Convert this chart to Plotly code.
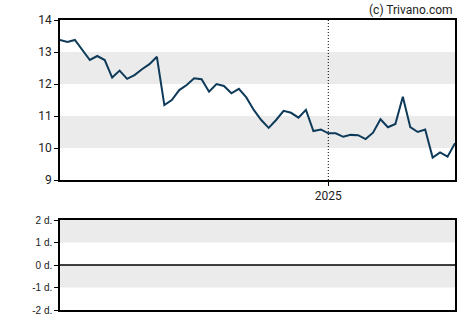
import plotly.graph_objects as go
import pandas as pd

dates = pd.date_range("2024-04-24", periods=54, freq="7D")
prices = [13.375, 13.31, 13.375, 13.06, 12.75, 12.875, 12.75, 12.20, 12.42, 12.16,
          12.28, 12.46, 12.62, 12.85, 11.34, 11.50, 11.81, 11.97, 12.18, 12.15,
          11.76, 12.00, 11.94, 11.71, 11.85, 11.58, 11.19, 10.875, 10.63, 10.875,
          11.16, 11.10, 10.95, 11.19, 10.53, 10.58, 10.46, 10.46, 10.35, 10.41,
          10.40, 10.28, 10.48, 10.90, 10.65, 10.75, 11.60, 10.65, 10.50, 10.58,
          9.70, 9.86, 9.73, 10.15]
top_ticks = [9, 10, 11, 12, 13, 14]
bottom_ticks = [-2, -1, 0, 1, 2]
bottom_labels = ["-2 d.", "-1 d.", "0 d.", "1 d.", "2 d."]
year_marker = "2025-01-01"

x0, x1 = dates[0], dates[-1]
band = "#ebebeb"

fig = go.Figure()
fig.add_trace(go.Scatter(x=dates, y=prices, mode="lines",
                         line=dict(color="#0e3a5a", width=2), xaxis="x", yaxis="y",
                         showlegend=False, hoverinfo="skip"))
fig.add_trace(go.Scatter(x=[x0, x1], y=[None, None], mode="lines", xaxis="x2", yaxis="y2",
                         showlegend=False, hoverinfo="skip"))

shapes = []
for lo, hi in [(10, 11), (12, 13)]:
    shapes.append(dict(type="rect", xref="x domain", yref="y", x0=0, x1=1, y0=lo, y1=hi,
                       fillcolor=band, line=dict(width=0), layer="below"))
for lo, hi in [(-1, 0), (1, 2)]:
    shapes.append(dict(type="rect", xref="x2 domain", yref="y2", x0=0, x1=1, y0=lo, y1=hi,
                       fillcolor=band, line=dict(width=0), layer="below"))
shapes.append(dict(type="line", xref="x", yref="y domain", x0=year_marker, x1=year_marker,
                   y0=0, y1=1, line=dict(color="black", width=1, dash="1px,2px")))
shapes.append(dict(type="line", xref="x2 domain", yref="y2", x0=0, x1=1, y0=0, y1=0,
                   line=dict(color="black", width=1.5)))

axis_common = dict(showline=True, linecolor="black", linewidth=1.5, mirror=True,
                   showgrid=False, zeroline=False, ticks="outside", ticklen=4,
                   tickcolor="black", automargin=False)

H = 325
t, b = 20, 15
ph = H - t - b
def py(p):
    return 1 - (p - t) / ph

fig.update_layout(
    width=470, height=H,
    margin=dict(l=60, r=15, t=t, b=b),
    paper_bgcolor="white", plot_bgcolor="white",
    font=dict(family="Roboto, Arial, sans-serif", color="#222222"),
    shapes=shapes,
    xaxis=dict(domain=[0, 1], anchor="y", range=[x0, x1], tickvals=[year_marker],
               ticktext=["2025"], tickfont=dict(size=12), **axis_common),
    yaxis=dict(domain=[py(180), 1], anchor="x", range=[9, 14], tickvals=top_ticks,
               tickfont=dict(size=12), **axis_common),
    xaxis2=dict(domain=[0, 1], anchor="y2", range=[x0, x1], showticklabels=False,
                **{**axis_common, "ticks": ""}),
    yaxis2=dict(domain=[0, py(220)], anchor="x2", range=[-2, 2], tickvals=bottom_ticks,
                ticktext=bottom_labels, tickfont=dict(size=10, family="Arial"), **axis_common),
    annotations=[dict(text="(c) Trivano.com", xref="paper", yref="paper", x=1, y=1,
                      xanchor="right", yanchor="bottom", yshift=1, showarrow=False,
                      font=dict(size=12, color="#222222"))],
)

fig.write_html("out.html")
